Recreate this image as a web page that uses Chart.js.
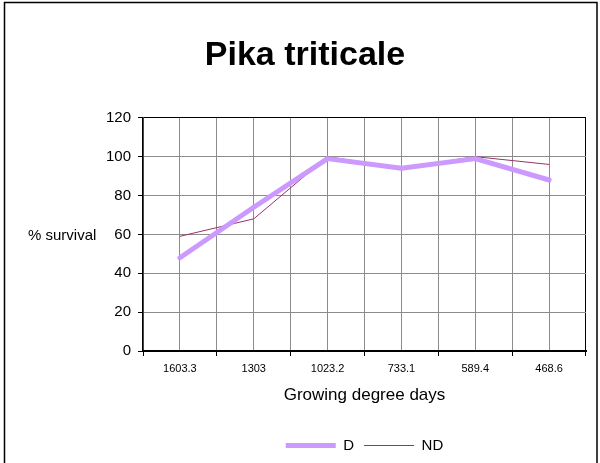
<!DOCTYPE html>
<html lang="en">
<head>
    <meta charset="UTF-8">
    <script src="https://cdn.jsdelivr.net/npm/chart.js@4.4.0/dist/chart.umd.min.js"></script>
    <title>Pika triticale</title>
    <style>
        body { margin: 0; background: #fff; }
        #wrap { width: 600px; height: 463px; }
    </style>
</head>
<body>
    <div id="wrap"><canvas id="survival"></canvas></div>

    <script>
        // values
        const gddLabels = ["1603.3", "1303", "1023.2", "733.1", "589.4", "468.6"]
        const dValues = [48, 74, 99, 94, 99, 88]
        const ndValues = [59, 68, 100, 94, 100, 96]
        const yTicks = [0, 20, 40, 60, 80, 100, 120]

        Chart.defaults.font.family = "'Liberation Sans', Arial, sans-serif"
        Chart.defaults.color = "#000"

        // outer frame + horizontal y title
        const extras = {
            id: "extras",
            beforeDraw(chart) {
                const ctx = chart.ctx
                ctx.save()
                ctx.strokeStyle = "#000"
                ctx.lineWidth = 1.5
                ctx.beginPath()
                ctx.moveTo(4.5, 470)
                ctx.lineTo(4.5, 2.5)
                ctx.lineTo(597, 2.5)
                ctx.lineTo(597, 470)
                ctx.stroke()
                ctx.restore()
            },
            afterDraw(chart) {
                const ctx = chart.ctx
                const area = chart.chartArea
                ctx.save()
                ctx.font = "15px 'Liberation Sans', Arial, sans-serif"
                ctx.fillStyle = "#000"
                ctx.textAlign = "left"
                ctx.textBaseline = "middle"
                ctx.fillText("% survival", 28, (area.top + area.bottom) / 2 + 1)
                ctx.restore()
            }
        }

        new Chart("survival", {
            type: "line",
            data: {
                labels: gddLabels,
                datasets: [{
                    label: "D",
                    data: dValues,
                    borderColor: "#cc99ff",
                    backgroundColor: "#cc99ff",
                    borderWidth: 5,
                    borderCapStyle: "round",
                    borderJoinStyle: "round",
                    pointRadius: 0,
                    pointStyle: "line",
                    fill: false,
                    tension: 0
                }, {
                    label: "ND",
                    data: ndValues,
                    borderColor: "#993366",
                    backgroundColor: "#993366",
                    borderWidth: 1,
                    pointRadius: 0,
                    pointStyle: "line",
                    fill: false,
                    tension: 0
                }]
            },
            options: {
                responsive: true,
                maintainAspectRatio: false,
                animation: false,
                layout: { padding: { left: 24, right: 14, top: 0, bottom: 0 } },
                plugins: {
                    title: {
                        display: true,
                        text: "Pika triticale",
                        font: { size: 34, weight: "bold" },
                        padding: { top: 35, bottom: 42 }
                    },
                    legend: {
                        position: "bottom",
                        fullSize: false,
                        labels: {
                            usePointStyle: true,
                            pointStyleWidth: 50,
                            font: { size: 15 },
                            padding: 10
                        }
                    },
                    tooltip: { enabled: false }
                },
                scales: {
                    x: {
                        offset: true,
                        grid: {
                            offset: true,
                            color: ctx => ctx.index === undefined ? "#000" : "#8c8c8c",
                            tickColor: "#000",
                            tickLength: 5
                        },
                        border: { color: "#000", width: 2 },
                        ticks: { font: { size: 11 }, padding: 6, maxRotation: 0 },
                        title: {
                            display: true,
                            text: "Growing degree days",
                            font: { size: 17 },
                            padding: { top: 0, bottom: 22 }
                        },
                        afterFit: scale => { scale.height = 77 }
                    },
                    x2: {
                        type: "category",
                        position: "bottom",
                        offset: true,
                        grid: { offset: false, color: "#8c8c8c", drawTicks: false },
                        border: { display: false },
                        ticks: { display: false },
                        afterFit: scale => { scale.height = 0 }
                    },
                    y: {
                        min: 0,
                        max: 120,
                        afterBuildTicks: scale => { scale.ticks = yTicks.map(v => ({ value: v })) },
                        grid: {
                            color: ctx => ctx.tick && ctx.tick.value === 120 ? "#000" : "#8c8c8c",
                            tickColor: "#000",
                            tickLength: 5
                        },
                        border: { color: "#000", width: 1.5 },
                        ticks: { font: { size: 15 }, padding: 7 },
                        afterFit: scale => { scale.width = 119 }
                    }
                }
            },
            plugins: [extras]
        })
    </script>
</body>
</html>
